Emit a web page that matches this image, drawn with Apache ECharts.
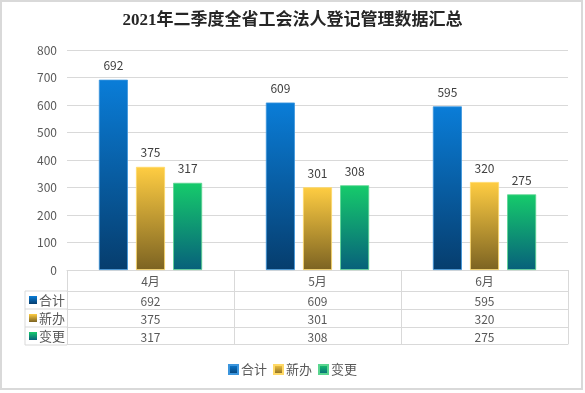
<!DOCTYPE html>
<html><head><meta charset="utf-8">
<script src="https://cdn.jsdelivr.net/npm/echarts@6/dist/echarts.min.js"></script>
<style>html,body{margin:0;padding:0;background:#fff}#c{width:585px;height:393px}</style>
</head><body><div id="c"></div>
<script>
var categories = ['4月', '5月', '6月'];
var seriesNames = ['合计', '新办', '变更'];
var totalValues = [692, 609, 595];
var newValues = [375, 301, 320];
var changeValues = [317, 308, 275];
var yTicks = [0, 100, 200, 300, 400, 500, 600, 700, 800];

var allValues = [totalValues, newValues, changeValues];
var grads = [
  ['#0a7dd8', '#063d6d', '#3b95dd'],
  ['#ffcd42', '#7c6322', '#ffd966'],
  ['#16cb6b', '#07607b', '#5ad690']
];
function grad(c) {
  return new echarts.graphic.LinearGradient(0, 0, 0, 1, [{offset: 0, color: c[0]}, {offset: 1, color: c[1]}]);
}
var F = "'Noto Sans CJK SC', 'Noto Sans', sans-serif";
var txt = '#595959', line = '#d9d9d9';

var G = {left: 67, right: 17, top: 50, bottom: 123};
var rowOff = [21, 39, 57, 74];

var xAxes = [{
  type: 'category', data: categories, position: 'bottom', gridIndex: 0,
  axisLine: {show: true, lineStyle: {color: line}},
  axisTick: {show: true, length: rowOff[3], lineStyle: {color: line}},
  axisLabel: {color: txt, fontSize: 12, fontFamily: F, margin: 5}
}];
for (var r = 0; r < 4; r++) {
  (function (r) {
    xAxes.push({
      type: 'category', data: categories, position: 'bottom', offset: rowOff[r], gridIndex: 0,
      axisLine: {show: true, lineStyle: {color: line}},
      axisTick: {show: false},
      axisLabel: {show: r < 3, color: txt, fontSize: 12, fontFamily: F, margin: 4,
        formatter: function (v, i) { return String(allValues[r][i]); }}
    });
  })(r);
}

var series = seriesNames.map(function (n, i) {
  return {
    name: n, type: 'bar', data: allValues[i], barWidth: 29, barGap: '28%',
    itemStyle: {color: grad(grads[i]), borderColor: grads[i][2], borderWidth: 0.8},
    label: {show: true, position: 'top', distance: 8, color: '#404040', fontSize: 12, fontFamily: F}
  };
});

var gfx = [{
  type: 'rect', shape: {x: 1, y: 1, width: 581, height: 388},
  style: {fill: 'none', stroke: line, lineWidth: 2}, silent: true
}];
var rowY = [291, 309, 327, 345];
gfx.push({type: 'line', shape: {x1: 25, y1: rowY[0], x2: 25, y2: rowY[3]}, style: {stroke: line, lineWidth: 1}});
for (var k = 0; k < 4; k++) {
  gfx.push({type: 'line', shape: {x1: 25, y1: rowY[k], x2: 67, y2: rowY[k]}, style: {stroke: line, lineWidth: 1}});
}
for (var k = 0; k < 3; k++) {
  gfx.push({type: 'rect', shape: {x: 29, y: (rowY[k] + rowY[k + 1]) / 2 - 4, width: 8, height: 8},
    style: {fill: grad(grads[k])}});
  gfx.push({type: 'text', x: 39, y: (rowY[k] + rowY[k + 1]) / 2,
    style: {text: seriesNames[k], fill: txt, fontSize: 13, fontFamily: F, verticalAlign: 'middle'}});
}

var chart = echarts.init(document.getElementById('c'));
chart.setOption({
  animation: false,
  title: {text: '2021年二季度全省工会法人登记管理数据汇总', left: 'center', top: 7,
    textStyle: {fontSize: 17, fontWeight: 'bold', color: '#262626', fontFamily: "'Liberation Serif', 'Noto Sans CJK SC', serif"}},
  grid: G,
  legend: {bottom: 12, left: 'center', itemWidth: 9, itemHeight: 9, itemGap: 6,
    icon: 'rect', textStyle: {color: txt, fontSize: 13, fontFamily: F, padding: [0, 0, 0, -2]}},
  xAxis: xAxes,
  yAxis: {type: 'value', min: yTicks[0], max: yTicks[yTicks.length - 1], interval: 100,
    axisLine: {show: false}, axisTick: {show: false},
    axisLabel: {color: txt, fontSize: 12, fontFamily: F, margin: 10},
    splitLine: {lineStyle: {color: line, width: 1}}},
  series: series,
  graphic: gfx
});
</script></body></html>
